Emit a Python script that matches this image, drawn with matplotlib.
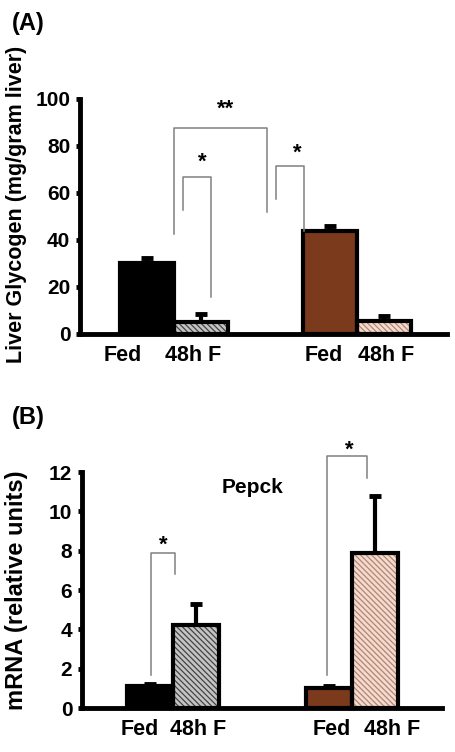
#!/usr/bin/env python3
"""Liver glycogen and Pepck mRNA, fed vs 48h fasted, two genotypes.

Saves the two-panel figure -> out.png
"""
import matplotlib
matplotlib.use("Agg")
import matplotlib.pyplot as plt

plt.rcParams["font.family"] = ["Liberation Sans", "DejaVu Sans"]
plt.rcParams["font.weight"] = "bold"
plt.rcParams["hatch.linewidth"] = 0.9

CONDITIONS = ["Fed", "48h F", "Fed", "48h F"]

# panel A: liver glycogen (mg/gram liver)
GLYCOGEN = [30.2, 5.1, 43.8, 5.5]
GLYCOGEN_ERR = [2.1, 3.4, 2.2, 2.2]
GLYCOGEN_TICKS = [0, 20, 40, 60, 80, 100]

# panel B: Pepck mRNA (relative units)
PEPCK = [1.1, 4.2, 1.0, 7.9]
PEPCK_ERR = [0.1, 1.1, 0.1, 2.9]
PEPCK_TICKS = [0, 2, 4, 6, 8, 10, 12]

BLACK = "#000000"
BROWN = "#7b3a1c"
GREY_FILL, GREY_HATCH = "#c4c4c4", "#444444"
PINK_FILL, PINK_HATCH = "#f3dbd0", "#b58470"
BRACKET = "#808080"


def draw_bars(ax, pos, vals, errs):
    """Fed bars solid, fasted bars hatched; thick black outlines, upper error only."""
    fills = [BLACK, GREY_FILL, BROWN, PINK_FILL]
    hatch_cols = [None, GREY_HATCH, None, PINK_HATCH]
    ax.errorbar(pos, vals, yerr=[[0] * len(vals), errs], fmt="none",
                ecolor="black", elinewidth=3, capsize=4, capthick=3.5, zorder=1)
    for x, v, fc, hc in zip(pos, vals, fills, hatch_cols):
        if hc:
            ax.bar(x, v, 1.0, color=fc, edgecolor=hc, hatch="\\\\\\\\\\\\",
                   linewidth=0, zorder=2)
            ax.bar(x, v, 1.0, facecolor="none", edgecolor="black",
                   linewidth=3, zorder=3)
        else:
            ax.bar(x, v, 1.0, color=fc, edgecolor="black", linewidth=3, zorder=3)


def bracket(ax, x0, x1, y_left, y_top, y_right):
    ax.plot([x0, x0, x1, x1], [y_left, y_top, y_top, y_right],
            color=BRACKET, lw=1.1, zorder=4, clip_on=False)


def style_axis(ax, label_pos, yticks):
    for s in ["top", "right"]:
        ax.spines[s].set_visible(False)
    for s in ["left", "bottom"]:
        ax.spines[s].set_linewidth(3.5)
    ax.set_yticks(yticks)
    ax.tick_params(axis="y", direction="out", length=3, width=3.5,
                   labelsize=15, pad=4)
    ax.set_xticks(label_pos)
    ax.set_xticklabels(CONDITIONS)
    ax.tick_params(axis="x", length=0, labelsize=15.5, pad=8)
    for t in ax.get_xticklabels() + ax.get_yticklabels():
        t.set_fontweight("bold")


fig = plt.figure(figsize=(4.56, 7.52), dpi=100)

# ---------------------------------------------------------------- (A)
axA = fig.add_axes([0.1754, 0.5559, 0.8046, 0.3125])
posA = [0, 1, 3.4, 4.4]
draw_bars(axA, posA, GLYCOGEN, GLYCOGEN_ERR)
axA.set_xlim(-1.24, 5.56)
axA.set_ylim(0, 100)
style_axis(axA, [-0.44, 0.85, 3.28, 4.43], GLYCOGEN_TICKS)
axA.set_ylabel("Liver Glycogen (mg/gram liver)", fontsize=15.5, fontweight="bold")
axA.yaxis.set_label_coords(-0.145, 0.55)
bracket(axA, 0.5, 2.22, 42.5, 87.7, 52.0)
bracket(axA, 0.67, 1.19, 52.8, 66.8, 15.7)
bracket(axA, 2.39, 2.91, 57.4, 71.5, 44.0)
axA.text(1.46, 95.5, "**", ha="center", va="center", fontsize=16, fontweight="bold")
axA.text(1.02, 73.0, "*", ha="center", va="center", fontsize=16, fontweight="bold")
axA.text(2.78, 77.0, "*", ha="center", va="center", fontsize=16, fontweight="bold")
fig.text(0.026, 0.969, "(A)", fontsize=17, fontweight="bold", va="center")

# ---------------------------------------------------------------- (B)
axB = fig.add_axes([0.1798, 0.0585, 0.7895, 0.3138])
posB = [0, 1, 3.9, 4.9]
draw_bars(axB, posB, PEPCK, PEPCK_ERR)
axB.set_xlim(-1.48, 6.35)
axB.set_ylim(0, 12)
style_axis(axB, [-0.22, 1.04, 3.96, 5.26], PEPCK_TICKS)
axB.set_ylabel("mRNA (relative units)", fontsize=17, fontweight="bold")
axB.yaxis.set_label_coords(-0.15, 0.5)
bracket(axB, 0.02, 0.54, 1.7, 7.9, 6.8)
bracket(axB, 3.85, 4.72, 1.7, 12.8, 11.7)
axB.text(0.28, 8.3, "*", ha="center", va="center", fontsize=16, fontweight="bold")
axB.text(4.33, 13.1, "*", ha="center", va="center", fontsize=16,
         fontweight="bold", clip_on=False)
axB.text(2.22, 11.2, "Pepck", ha="center", va="center", fontsize=15, fontweight="bold")
fig.text(0.026, 0.445, "(B)", fontsize=17, fontweight="bold", va="center")

fig.savefig("out.png", dpi=100)
plt.close(fig)
